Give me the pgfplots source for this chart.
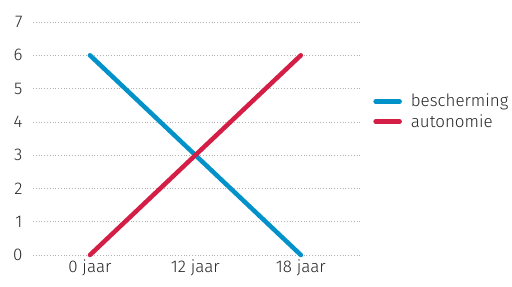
\documentclass[border=0pt]{standalone}
\usepackage{pgfplots}
\pgfplotsset{compat=1.18}
\usepackage{fontspec}
\setmainfont{Fira Sans Light}
\definecolor{cblue}{RGB}{0,146,200}
\definecolor{cred}{RGB}{212,30,70}
\begin{document}
\begin{tikzpicture}[x=1bp,y=1bp]
\useasboundingbox (0,0) rectangle (512,286);
\begin{axis}[
  at={(33bp,31bp)}, anchor=south west,
  scale only axis, width=329bp, height=233bp,
  xmin=-0.54, xmax=2.58, ymin=0, ymax=7,
  axis line style={draw=none},
  clip=false,
  xtick={0,1,2}, xticklabels={0 jaar,12 jaar,18 jaar},
  ytick={0,1,...,7},
  major tick length=0pt,
  ymajorgrids,
  grid style={gray!60, line width=0.6pt, dash pattern=on 0.6pt off 2.2pt},
  /pgf/number format/assume math mode=true,
  tick label style={font=\fontsize{17}{19}\selectfont, text=black!85},
  yticklabel style={xshift=-7bp},
  xticklabel style={yshift=-1bp},
  legend style={draw=none, fill=none, at={(1.034,0.616)}, anchor=west,
    font=\fontsize{17}{19}\selectfont, text=black!85, row sep=6bp,
    inner sep=0pt, nodes={inner sep=0pt}},
  legend cell align=left,
  legend image code/.code={\draw[#1, line cap=round] (0bp,0bp) -- (24bp,0bp);},
  /tikz/every odd column/.append style={column sep=9bp},
]
\addplot[cblue, line width=4.5bp, line cap=round] coordinates {(0,6) (1,3) (2,0)};
\addlegendentry{bescherming}
\addplot[cred, line width=4.5bp, line cap=round] coordinates {(0,0) (1,3) (2,6)};
\addlegendentry{autonomie}
\end{axis}
\end{tikzpicture}
\end{document}
